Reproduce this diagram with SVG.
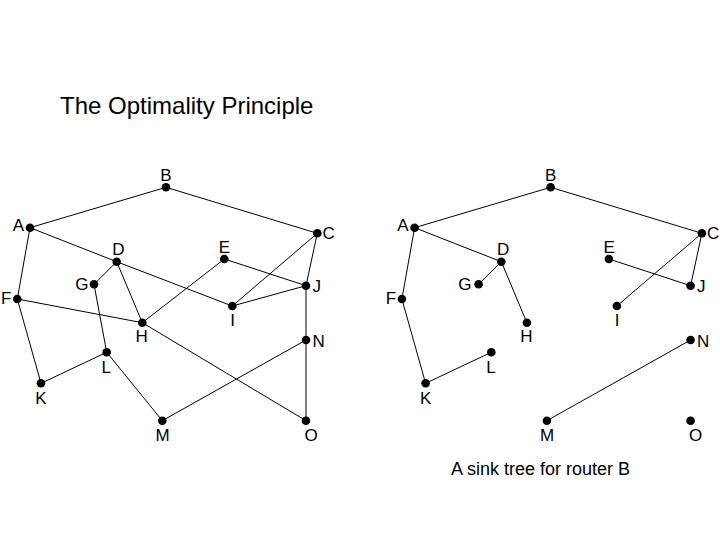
<svg xmlns="http://www.w3.org/2000/svg" width="720" height="540" viewBox="0 0 720 540">
<style>
.e{stroke:#000;stroke-width:1;fill:none}
.n{fill:#000}
.t{font-family:"Liberation Sans",Arial,sans-serif;font-size:17px;fill:#000}
.m{text-anchor:middle}
.s{text-anchor:end}
.ttl{font-family:"Liberation Sans",Arial,sans-serif;font-size:24px;fill:#000}
.cap{font-family:"Liberation Sans",Arial,sans-serif;font-size:18px;fill:#000}
</style>
<defs>
<circle id="dot" r="4.3" class="n"/>
</defs>
<rect width="720" height="540" fill="#fff"/>
<text class="ttl" x="60" y="114">The Optimality Principle</text>
<text class="cap" x="451" y="475">A sink tree for router B</text>

<g id="left-graph">
<g id="left-connectors" class="e">
<line x1="30" y1="227.7" x2="166" y2="187.3"/>
<line x1="166" y1="187.3" x2="317.3" y2="233.3"/>
<line x1="30" y1="227.7" x2="17.3" y2="299"/>
<line x1="30" y1="227.7" x2="116.7" y2="261.7"/>
<line x1="116.7" y1="261.7" x2="232.3" y2="306"/>
<line x1="116.7" y1="261.7" x2="94" y2="284.3"/>
<line x1="116.7" y1="261.7" x2="142.3" y2="322.7"/>
<line x1="94" y1="284.3" x2="106.7" y2="352.3"/>
<line x1="17.3" y1="299" x2="142.3" y2="322.7"/>
<line x1="17.3" y1="299" x2="41" y2="383.3"/>
<line x1="41" y1="383.3" x2="106.7" y2="352.3"/>
<line x1="106.7" y1="352.3" x2="162.3" y2="420.7"/>
<line x1="224.3" y1="259" x2="142.3" y2="322.7"/>
<line x1="224.3" y1="259" x2="306" y2="285.7"/>
<line x1="317.3" y1="233.3" x2="232.3" y2="306"/>
<line x1="317.3" y1="233.3" x2="306" y2="285.7"/>
<line x1="232.3" y1="306" x2="306" y2="285.7"/>
<line x1="306" y1="285.7" x2="306" y2="340"/>
<line x1="306" y1="340" x2="306" y2="420.7"/>
<line x1="142.3" y1="322.7" x2="306" y2="420.7"/>
<line x1="162.3" y1="420.7" x2="306" y2="340"/>
</g>
<g id="L-A"><use href="#dot" x="30" y="227.7"/><text class="t s" x="24" y="231">A</text></g>
<g id="L-B"><use href="#dot" x="166" y="187.3"/><text class="t m" x="166" y="181">B</text></g>
<g id="L-C"><use href="#dot" x="317.3" y="233.3"/><text class="t" x="322.5" y="238.5">C</text></g>
<g id="L-D"><use href="#dot" x="116.7" y="261.7"/><text class="t m" x="118.5" y="255">D</text></g>
<g id="L-E"><use href="#dot" x="224.3" y="259"/><text class="t m" x="224.5" y="253">E</text></g>
<g id="L-F"><use href="#dot" x="17.3" y="299"/><text class="t s" x="11.5" y="303.5">F</text></g>
<g id="L-G"><use href="#dot" x="94" y="284.3"/><text class="t s" x="88.5" y="290">G</text></g>
<g id="L-H"><use href="#dot" x="142.3" y="322.7"/><text class="t m" x="141.7" y="342.3">H</text></g>
<g id="L-I"><use href="#dot" x="232.3" y="306"/><text class="t m" x="232.5" y="326">I</text></g>
<g id="L-J"><use href="#dot" x="306" y="285.7"/><text class="t" x="312.5" y="291.5">J</text></g>
<g id="L-K"><use href="#dot" x="41" y="383.3"/><text class="t m" x="41" y="404">K</text></g>
<g id="L-L"><use href="#dot" x="106.7" y="352.3"/><text class="t m" x="106.3" y="372.5">L</text></g>
<g id="L-M"><use href="#dot" x="162.3" y="420.7"/><text class="t m" x="162.5" y="440.5">M</text></g>
<g id="L-N"><use href="#dot" x="306" y="340"/><text class="t" x="312.5" y="346.5">N</text></g>
<g id="L-O"><use href="#dot" x="306" y="420.7"/><text class="t m" x="311" y="440.5">O</text></g>
</g>

<g id="right-graph" transform="translate(384.6,0)">
<g id="right-connectors" class="e">
<line x1="30" y1="227.7" x2="166" y2="187.3"/>
<line x1="166" y1="187.3" x2="317.3" y2="233.3"/>
<line x1="30" y1="227.7" x2="116.7" y2="261.7"/>
<line x1="30" y1="227.7" x2="17.3" y2="299"/>
<line x1="116.7" y1="261.7" x2="94" y2="284.3"/>
<line x1="116.7" y1="261.7" x2="142.3" y2="322.7"/>
<line x1="17.3" y1="299" x2="41" y2="383.3"/>
<line x1="41" y1="383.3" x2="106.7" y2="352.3"/>
<line x1="224.3" y1="259" x2="306" y2="285.7"/>
<line x1="317.3" y1="233.3" x2="306" y2="285.7"/>
<line x1="317.3" y1="233.3" x2="232.3" y2="306"/>
<line x1="162.3" y1="420.7" x2="306" y2="340"/>
</g>
<g id="R-A"><use href="#dot" x="30" y="227.7"/><text class="t s" x="24" y="231">A</text></g>
<g id="R-B"><use href="#dot" x="166" y="187.3"/><text class="t m" x="166" y="181">B</text></g>
<g id="R-C"><use href="#dot" x="317.3" y="233.3"/><text class="t" x="322.5" y="238.5">C</text></g>
<g id="R-D"><use href="#dot" x="116.7" y="261.7"/><text class="t m" x="118.5" y="255">D</text></g>
<g id="R-E"><use href="#dot" x="224.3" y="259"/><text class="t m" x="224.5" y="253">E</text></g>
<g id="R-F"><use href="#dot" x="17.3" y="299"/><text class="t s" x="11.5" y="303.5">F</text></g>
<g id="R-G"><use href="#dot" x="94" y="284.3"/><text class="t s" x="87" y="290">G</text></g>
<g id="R-H"><use href="#dot" x="142.3" y="322.7"/><text class="t m" x="141.7" y="342.3">H</text></g>
<g id="R-I"><use href="#dot" x="232.3" y="306"/><text class="t m" x="232.5" y="326">I</text></g>
<g id="R-J"><use href="#dot" x="306" y="285.7"/><text class="t" x="312.5" y="291.5">J</text></g>
<g id="R-K"><use href="#dot" x="41" y="383.3"/><text class="t m" x="41" y="404">K</text></g>
<g id="R-L"><use href="#dot" x="106.7" y="352.3"/><text class="t m" x="106.3" y="372.5">L</text></g>
<g id="R-M"><use href="#dot" x="162.3" y="420.7"/><text class="t m" x="162.5" y="440.5">M</text></g>
<g id="R-N"><use href="#dot" x="306" y="340"/><text class="t" x="312.5" y="346.5">N</text></g>
<g id="R-O"><use href="#dot" x="306" y="420.7"/><text class="t m" x="311" y="440.5">O</text></g>
</g>
</svg>
